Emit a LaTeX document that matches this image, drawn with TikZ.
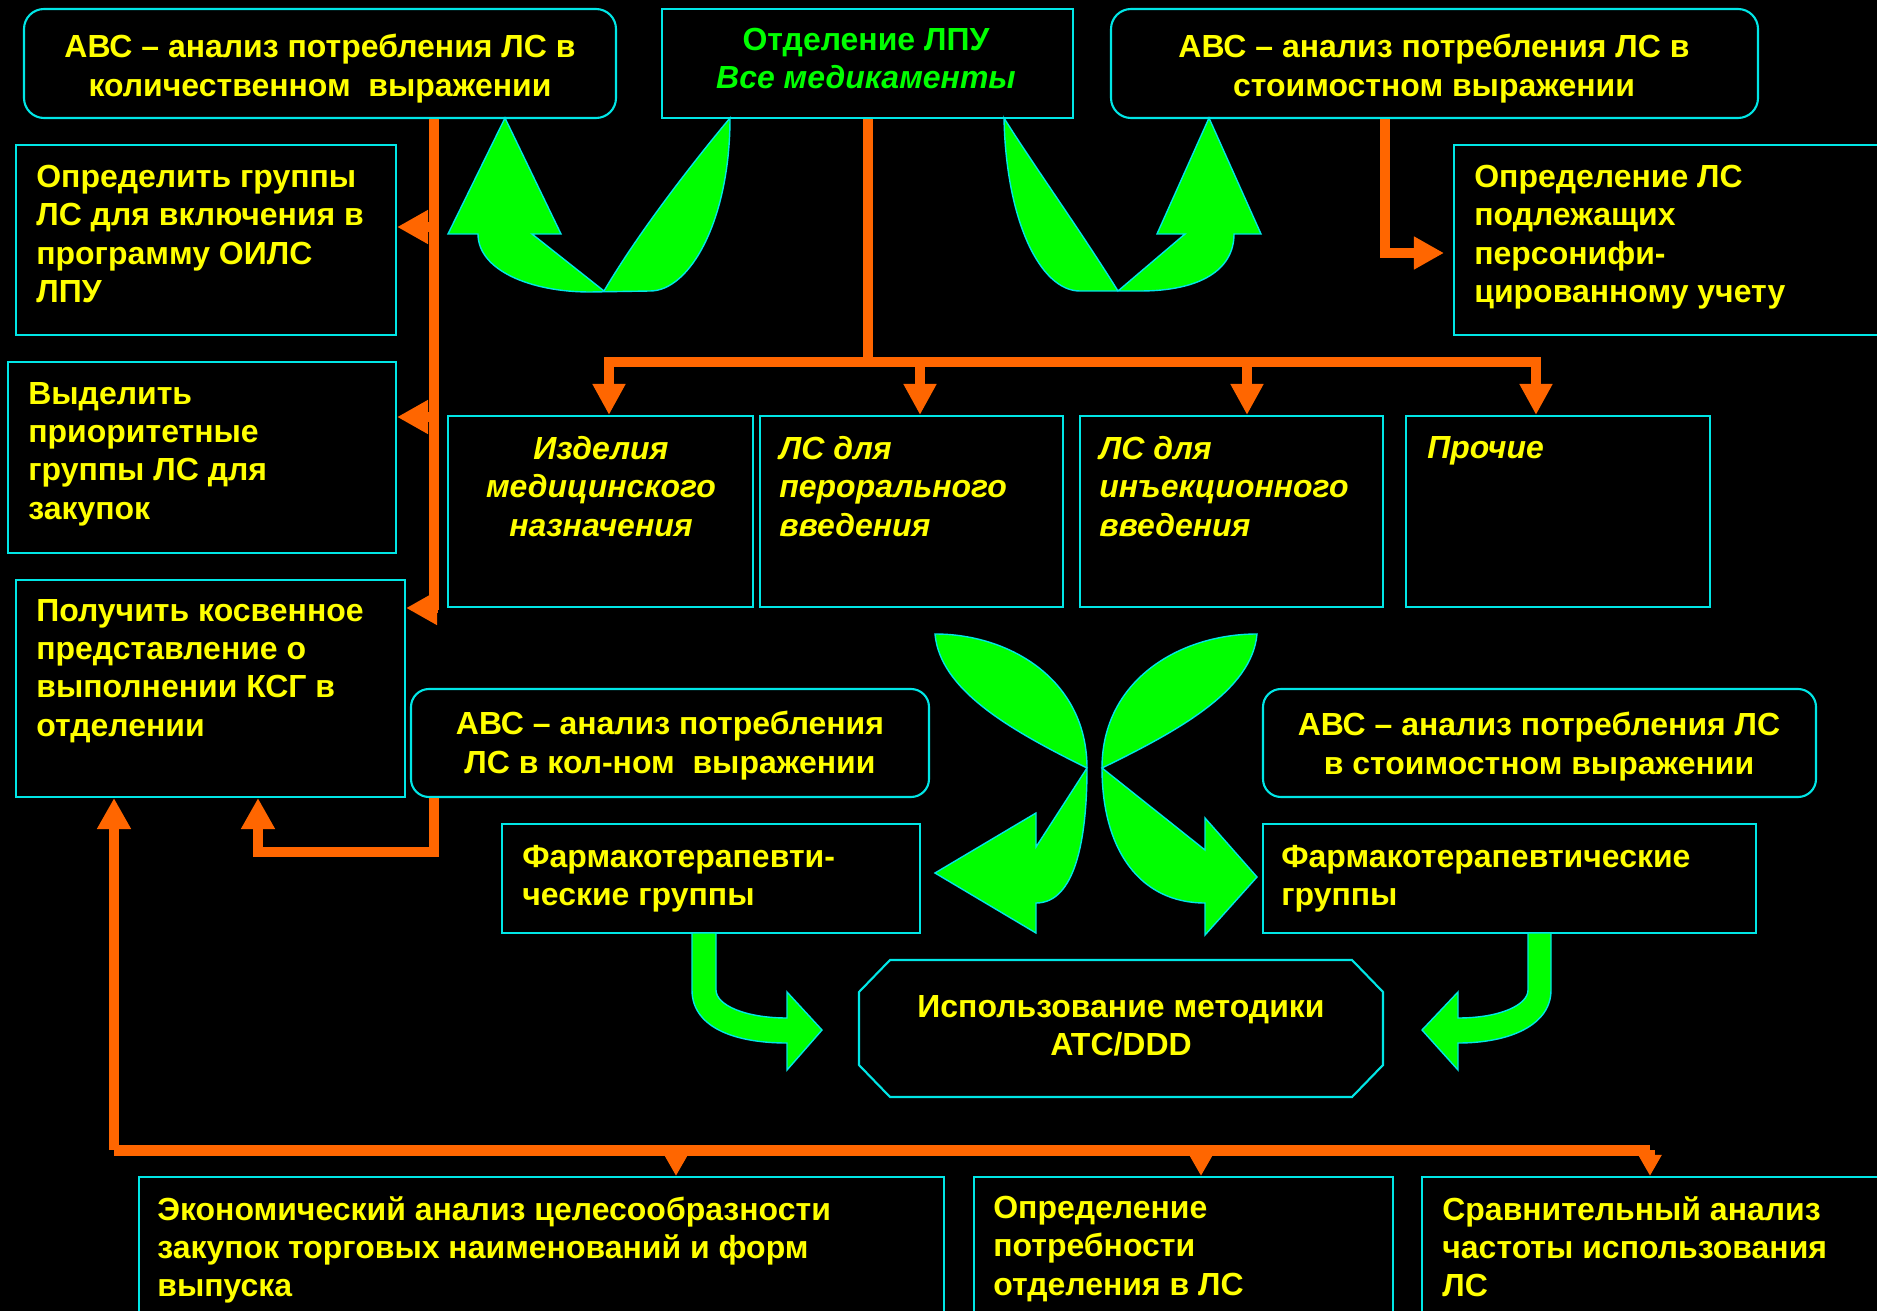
\documentclass[tikz,border=0pt]{standalone}
\usepackage{fontspec}
\setmainfont{Liberation Sans}
\usetikzlibrary{arrows.meta,fit}
\definecolor{cy}{RGB}{0,230,230}
\definecolor{ye}{RGB}{255,255,0}
\definecolor{gr}{RGB}{0,255,0}
\definecolor{og}{RGB}{255,102,0}
\newcommand\diagfont{\fontsize{18.2}{21.8}\selectfont\bfseries}
\begin{document}
\begin{tikzpicture}[x=0.02cm,y=-0.02cm,
  box/.style={draw=cy,line width=1.2pt,inner sep=0pt,rectangle},
  rbox/.style={box,rounded corners=0.4cm},
  txt/.style={text=ye,font=\diagfont,inner sep=0pt,align=left,anchor=north west},
  ctxt/.style={txt,align=center,anchor=north},
  itx/.style={font=\diagfont\itshape},
  obar/.style={draw=og,line width=0.2cm},
  ltip/.style={-{Triangle[width=0.64cm,length=0.62cm]}},
  dtip/.style={-{Triangle[width=0.62cm,length=0.62cm]}},
  stip/.style={-{Triangle[width=0.44cm,length=0.42cm]}},
  garr/.style={fill=gr,draw=cy,line width=0.8pt,line join=miter}]
\fill[black] (0,0) rectangle (1877,1311);
\clip (0,0) rectangle (1877,1311);

% boxes
\node[rbox,fit={(24,9)(616,118)}] (b1) {};
\node[box,fit={(662,9)(1073,118)}] (b2) {};
\node[rbox,fit={(1111,9)(1758,118)}] (b3) {};
\node[box,fit={(16,145)(396,335)}] (b4) {};
\node[box,fit={(1454,145)(1900,335)}] (b5) {};
\node[box,fit={(8,362)(396,553)}] (b6) {};
\node[box,fit={(16,580)(405,797)}] (b7) {};
\node[box,fit={(448,416)(753,607)}] (r1) {};
\node[box,fit={(760,416)(1063,607)}] (r2) {};
\node[box,fit={(1080,416)(1383,607)}] (r3) {};
\node[box,fit={(1406,416)(1710,607)}] (r4) {};
\node[rbox,rounded corners=0.36cm,fit={(411,689)(929,797)}] (b8) {};
\node[rbox,rounded corners=0.36cm,fit={(1263,689)(1816,797)}] (b9) {};
\node[box,fit={(502,824)(920,933)}] (b10) {};
\node[box,fit={(1263,824)(1756,933)}] (b11) {};
\draw[draw=cy,line width=1.2pt] (890,960) -- (1352,960) -- (1383,992) -- (1383,1065) -- (1352,1097) -- (890,1097) -- (859,1065) -- (859,992) -- cycle;
\node[inner sep=0pt,fit={(859,960)(1383,1097)}] (b12) {};
\node[box,fit={(139,1177)(944,1330)}] (b13) {};
\node[box,fit={(974,1177)(1393,1330)}] (b14) {};
\node[box,fit={(1422,1177)(1900,1330)}] (b15) {};

% texts
\node[ctxt] (t1) at (320,34) {АВС – анализ потребления ЛС в\\количественном~ выражении};
\node[ctxt,text=gr] (t2) at (866,28) {Отделение ЛПУ\\\itshape Все медикаменты};
\node[ctxt] (t3) at (1434,34) {АВС – анализ потребления ЛС в\\стоимостном выражении};
\node[txt] (t4) at (36,165) {Определить группы\\ЛС для включения в\\программу ОИЛС\\ЛПУ};
\node[txt] (t5) at (1474,165) {Определение ЛС\\подлежащих\\персонифи-\\цированному учету};
\node[txt] (t6) at (28,382) {Выделить\\приоритетные\\группы ЛС для\\закупок};
\node[txt] (t7) at (36,599) {Получить косвенное\\представление о\\выполнении КСГ в\\отделении};
\node[ctxt,itx] (tr1) at (601,436) {Изделия\\медицинского\\назначения};
\node[txt,itx] (tr2) at (779,436) {ЛС для\\перорального\\введения};
\node[txt,itx] (tr3) at (1099,436) {ЛС для\\инъекционного\\введения};
\node[txt,itx] (tr4) at (1427,436) {Прочие};
\node[ctxt] (t8) at (670,711) {АВС – анализ потребления\\ЛС в кол-ном~ выражении};
\node[ctxt] (t9) at (1539,712) {АВС – анализ потребления ЛС\\в стоимостном выражении};
\node[txt] (t10) at (522,845) {Фармакотерапевти-\\ческие группы};
\node[txt] (t11) at (1281,845) {Фармакотерапевтические\\группы};
\node[ctxt] (t12) at (1121,995) {Использование методики\\ATC/DDD};
\node[txt] (t13) at (157,1196) {Экономический анализ целесообразности\\закупок торговых наименований и форм\\выпуска};
\node[txt] (t14) at (993,1196) {Определение\\потребности\\отделения в ЛС};
\node[txt] (t15) at (1442,1196) {Сравнительный анализ\\частоты использования\\ЛС};

% orange connectors: left vertical
\coordinate (vl) at (434,610);
\draw[obar] (vl |- b1.south) -- (vl);
\coordinate (a4) at (436,227);
\coordinate (a6) at (436,417);
\coordinate (a7) at (438,608);
\draw[obar,ltip] (a4) -- (a4 -| b4.east);
\draw[obar,ltip] (a6) -- (a6 -| b6.east);
\draw[obar,ltip] (a7) -- (a7 -| b7.east);

% middle bus
\coordinate (hm) at (868,362);
\draw[obar] (hm |- b2.south) -- (hm);
\coordinate (h1) at (609,362);
\coordinate (h2) at (920,362);
\coordinate (h3) at (1247,362);
\coordinate (h4) at (1536,362);
\draw[obar,line cap=rect] (h1) -- (h4);
\draw[obar,dtip] (h1) -- (h1 |- r1.north);
\draw[obar,dtip] (h2) -- (h2 |- r2.north);
\draw[obar,dtip] (h3) -- (h3 |- r3.north);
\draw[obar,dtip] (h4) -- (h4 |- r4.north);

% b3 -> b5
\coordinate (k3) at (1385,253);
\draw[obar,-{Triangle[width=0.62cm,length=0.6cm]}] (k3 |- b3.south) -- (k3) -- ([xshift=-0.18cm]k3 -| b5.west);

% b8 -> b7
\coordinate (m1) at (434,852);
\coordinate (m2) at (258,852);
\draw[obar,ltip] (m1 |- b8.south) -- (m1) -- (m2) -- (m2 |- b7.south);

% bottom bus
\coordinate (q0) at (114,1150);
\coordinate (q1) at (676,1150);
\coordinate (q2) at (1201,1150);
\coordinate (q3) at (1650,1150);
\draw[draw=og,line width=0.22cm] (q0) -- (q3);
\draw[obar,ltip] (q0) -- (q0 |- b7.south);
\draw[obar,stip] (q1) -- (q1 |- b13.north);
\draw[obar,stip] (q2) -- (q2 |- b14.north);
\draw[obar,stip] (q3) -- (q3 |- b15.north);

% green arrows top
\draw[garr] (730,118) .. controls (730,220) and (690,291) .. (650,291) -- (590,292)
  .. controls (530,292) and (478,270) .. (478,234) -- (448,234) -- (505,118) -- (561,234) -- (532,234)
  -- (604,291) .. controls (640,230) and (695,160) .. (730,118) -- cycle;
\draw[garr] (1004,118) .. controls (1006,220) and (1040,291) .. (1080,291) -- (1140,291)
  .. controls (1200,291) and (1234,270) .. (1234,234) -- (1261,234) -- (1209,118) -- (1157,234) -- (1185,234)
  -- (1118,291) .. controls (1080,230) and (1030,160) .. (1004,118) -- cycle;

% green X
\draw[garr] (1087,768) .. controls (1010,730) and (940,690) .. (935,634)
  .. controls (1010,634) and (1087,680) .. (1087,768)
  .. controls (1087,840) and (1075,903) .. (1036,903)
  -- (1036,933) -- (935,873) -- (1036,813) -- (1036,847) -- cycle;
\draw[garr] (1102,768) .. controls (1180,730) and (1252,690) .. (1257,634)
  .. controls (1180,634) and (1102,680) .. (1102,768)
  .. controls (1102,850) and (1140,903) .. (1205,903)
  -- (1205,935) -- (1257,877) -- (1205,818) -- (1205,850) -- cycle;

% green bent arrows
\draw[garr] (692,933) -- (692,990) .. controls (692,1025) and (730,1043) .. (787,1043) -- (787,1070) -- (822,1030) -- (787,992) -- (787,1018) .. controls (745,1018) and (716,1005) .. (716,990) -- (716,933) -- cycle;
\draw[garr] (1551,933) -- (1551,990) .. controls (1551,1025) and (1510,1043) .. (1458,1043) -- (1458,1070) -- (1422,1030) -- (1458,992) -- (1458,1018) .. controls (1500,1018) and (1528,1005) .. (1528,990) -- (1528,933) -- cycle;
\end{tikzpicture}
\end{document}
